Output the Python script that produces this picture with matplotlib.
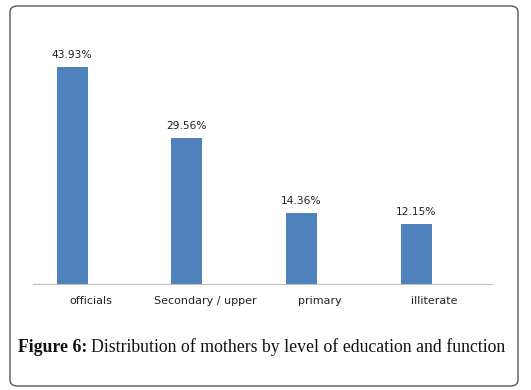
import matplotlib
matplotlib.use("Agg")
import matplotlib.pyplot as plt
from matplotlib.patches import FancyBboxPatch

categories = ["officials", "Secondary / upper", "primary", "illiterate"]
values = [43.93, 29.56, 14.36, 12.15]
labels = ["43.93%", "29.56%", "14.36%", "12.15%"]

W, H = 531, 390
fig = plt.figure(figsize=(W/100, H/100), dpi=100)
fig.patch.set_facecolor("white")

# outer rounded frame
box = FancyBboxPatch((10/W, 1-386/H), 508/W, 380/H,
                     boxstyle="round,pad=0,rounding_size=0.015",
                     transform=fig.transFigure, fill=False,
                     edgecolor="#555555", linewidth=1.0)
fig.patches.append(box)

ax_left, ax_right = 33, 492
ax_bottom, ax_top = 284, 37
ax = fig.add_axes([ax_left/W, 1-ax_bottom/H, (ax_right-ax_left)/W, (ax_bottom-ax_top)/H])
x = list(range(len(categories)))
shift = 0.16
xb = [xi - shift for xi in x]
ax.bar(xb, values, width=0.27, color="#4f81bd")
ax.set_xlim(-0.5, 3.5)
ax.set_ylim(0, 50)
for xi, v, lab in zip(xb, values, labels):
    ax.text(xi, v + 1.4, lab, ha="center", va="bottom", fontsize=7.7,
            family="DejaVu Sans", color="#222222")
for s in ["top", "right", "left"]:
    ax.spines[s].set_visible(False)
ax.spines["bottom"].set_color("#bfbfbf")
ax.set_yticks([])
ax.set_xticks(x)
ax.set_xticklabels(categories, fontsize=8, family="DejaVu Sans", color="#222222")
ax.tick_params(axis="x", length=0, pad=9)

# caption
fig.canvas.draw()
r = fig.canvas.get_renderer()
cy = 1 - 347/H
t1 = fig.text(18/W, cy, "Figure 6:", fontsize=12.8, family="Liberation Serif",
              weight="bold", va="center", ha="left", color="#111111")
bb = t1.get_window_extent(r)
fig.text(bb.x1/W + 4/W, cy, "Distribution of mothers by level of education and function",
         fontsize=12.8, family="Liberation Serif", va="center", ha="left", color="#111111")

fig.savefig("out.png", dpi=100, facecolor="white")
